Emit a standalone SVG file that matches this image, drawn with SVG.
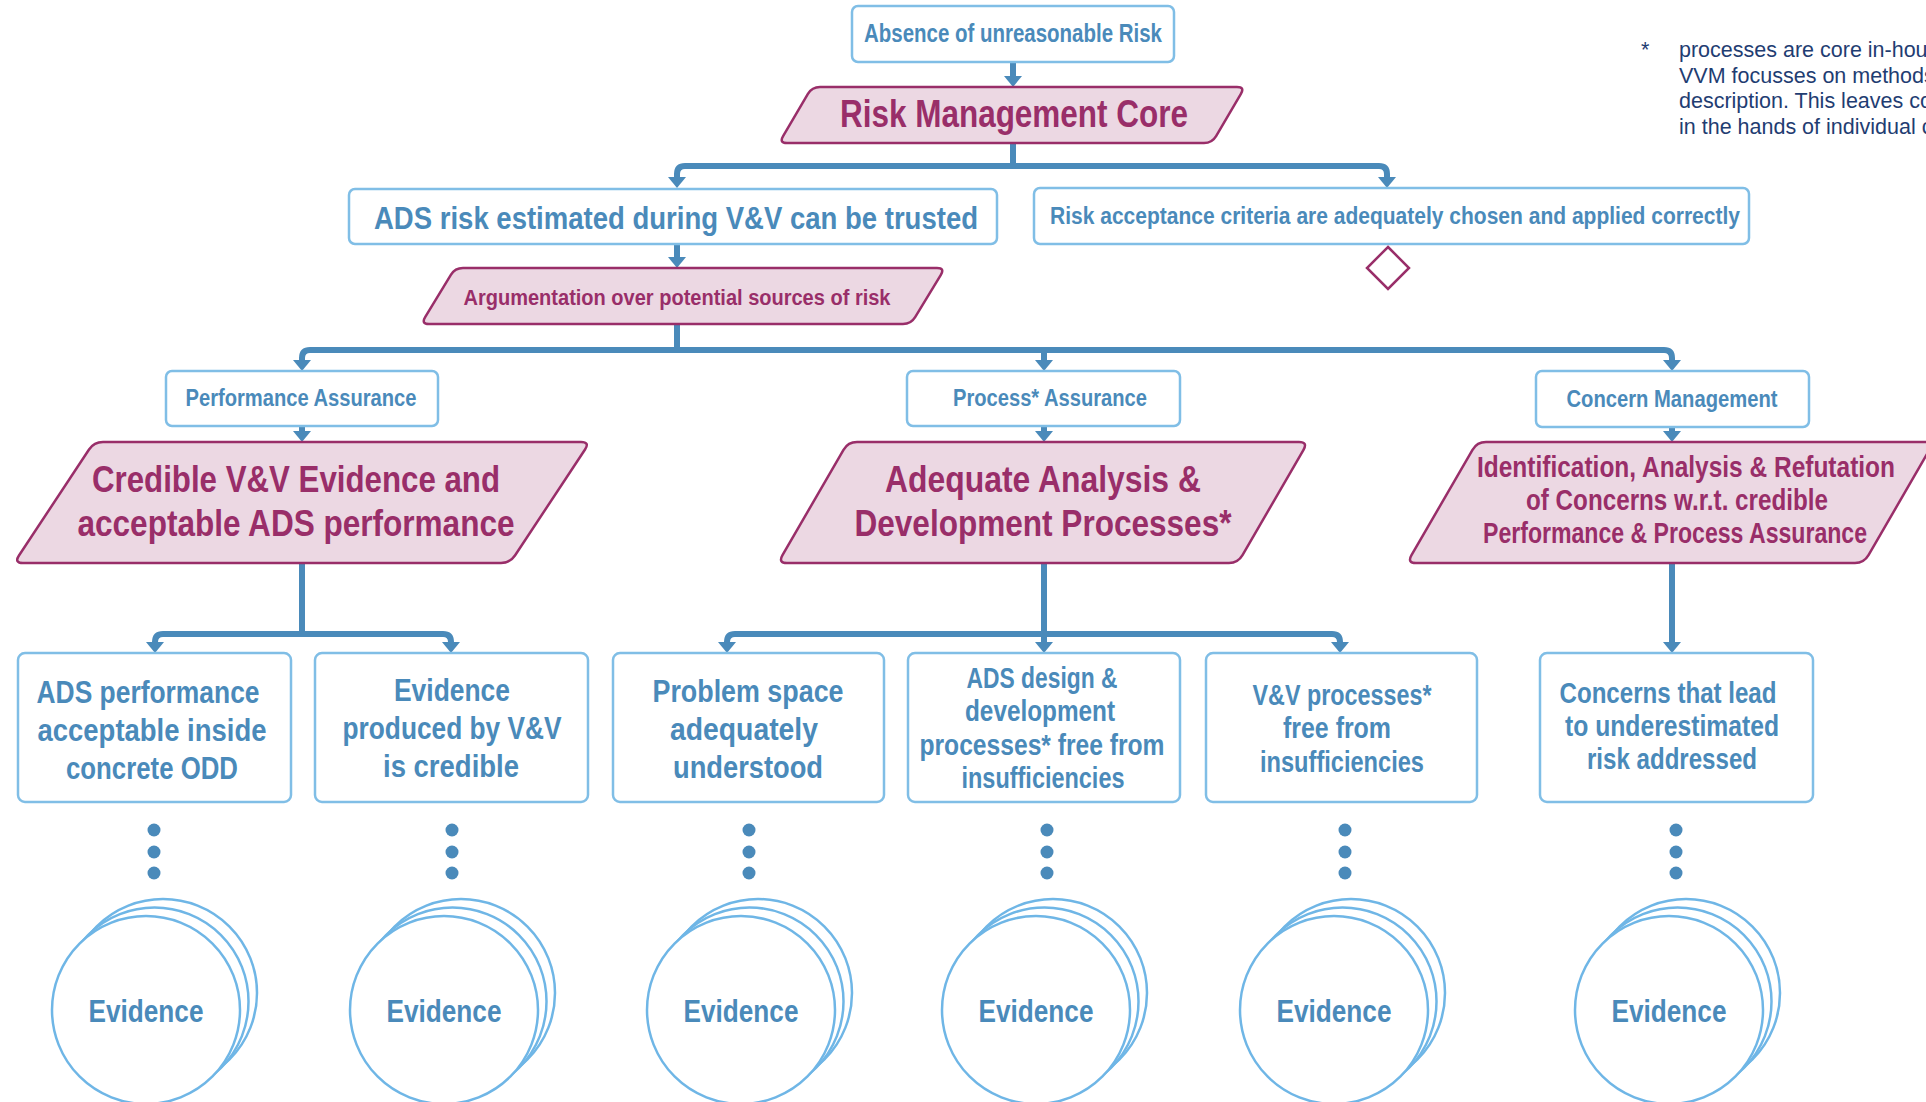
<svg xmlns="http://www.w3.org/2000/svg" width="1926" height="1102" viewBox="0 0 1926 1102">
<style>
.bx{fill:#fff;stroke:#80bee6;stroke-width:2.5}
.pg{fill:#ecd8e3;stroke:#992e69;stroke-width:2.5}
.bt{font-family:'Liberation Sans',Arial,sans-serif;font-weight:bold;fill:#4a8aba;text-anchor:middle}
.mt{font-family:'Liberation Sans',Arial,sans-serif;font-weight:bold;fill:#992e69;text-anchor:middle}
.cn{fill:none;stroke:#4a8aba;stroke-width:6}
.ar{marker-end:url(#arr)}
.dot{fill:#4a8aba}
.ev{fill:#fff;stroke:#6fb6e6;stroke-width:2.5}
.fn{font-family:'Liberation Sans',Arial,sans-serif;font-size:21.5px;fill:#1f3d72}
</style>
<defs>
<marker id="arr" viewBox="0 0 11 18" refX="3" refY="9" markerWidth="11" markerHeight="18" markerUnits="userSpaceOnUse" orient="auto">
<path d="M0,0 L11,9 L0,18 Z" fill="#4a8aba"/>
</marker>
</defs>
<rect width="1926" height="1102" fill="#fff"/>

<g id="connectors">
<path class="cn ar" d="M1013,62 V79"/>
<path class="cn" d="M1013,143 V166"/>
<path class="cn ar" d="M1013,166 H685 Q677,166 677,174 V180"/>
<path class="cn ar" d="M1013,166 H1379 Q1387,166 1387,174 V180"/>
<path class="cn ar" d="M677,244 V260"/>
<path class="cn" d="M677,324 V350"/>
<path class="cn ar" d="M677,350 H310 Q302,350 302,358 V363"/>
<path class="cn ar" d="M677,350 H1664 Q1672,350 1672,358 V363"/>
<path class="cn ar" d="M1044,350 V363"/>
<path class="cn ar" d="M302,426 V434"/>
<path class="cn ar" d="M1044,426 V434"/>
<path class="cn ar" d="M1672,427 V434"/>
<path class="cn" d="M302,563 V634"/>
<path class="cn ar" d="M302,634 H163 Q155,634 155,642 V645"/>
<path class="cn ar" d="M302,634 H443 Q451,634 451,642 V645"/>
<path class="cn ar" d="M1044,563 V645"/>
<path class="cn ar" d="M1044,634 H735 Q727,634 727,642 V645"/>
<path class="cn ar" d="M1044,634 H1332 Q1340,634 1340,642 V645"/>
<path class="cn ar" d="M1672,563 V645"/>
</g>

<g id="n-absence">
<rect class="bx" x="852" y="6" width="322" height="56" rx="6"/>
<text class="bt" x="1013" y="42" font-size="25" textLength="298" lengthAdjust="spacingAndGlyphs">Absence of unreasonable Risk</text>
</g>
<g id="n-rmc">
<path class="pg" d="M820,87 H1237 Q1245,87 1240.9,93.9 L1216.1,136.1 Q1212,143 1204,143 H787 Q779,143 783.1,136.1 L807.9,93.9 Q812,87 820,87 Z"/>
<text class="mt" x="1014" y="127" font-size="38" textLength="348" lengthAdjust="spacingAndGlyphs">Risk Management Core</text>
</g>
<g id="n-adsrisk">
<rect class="bx" x="349" y="189" width="648" height="55" rx="6"/>
<text class="bt" x="676" y="229" font-size="31" textLength="604" lengthAdjust="spacingAndGlyphs">ADS risk estimated during V&amp;V can be trusted</text>
</g>
<g id="n-acceptance">
<rect class="bx" x="1034" y="188" width="715" height="56" rx="6"/>
<text class="bt" x="1395" y="224" font-size="24" textLength="690" lengthAdjust="spacingAndGlyphs">Risk acceptance criteria are adequately chosen and applied correctly</text>
</g>
<g id="n-diamond">
<polygon points="1388,247 1409,268 1388,289 1367,268" fill="#fff" stroke="#992e69" stroke-width="2.5"/>
</g>
<g id="n-argumentation">
<path class="pg" d="M463,268 H937 Q945,268 940.85,274.84 L915.15,317.16 Q911,324 903,324 H429 Q421,324 425.15,317.16 L450.85,274.84 Q455,268 463,268 Z"/>
<text class="mt" x="677" y="305" font-size="22.5" textLength="427" lengthAdjust="spacingAndGlyphs">Argumentation over potential sources of risk</text>
</g>
<g id="n-perf">
<rect class="bx" x="166" y="371" width="272" height="55" rx="6"/>
<text class="bt" x="301" y="406" font-size="23" textLength="231" lengthAdjust="spacingAndGlyphs">Performance Assurance</text>
</g>
<g id="n-proc">
<rect class="bx" x="907" y="371" width="273" height="55" rx="6"/>
<text class="bt" x="1050" y="406" font-size="23" textLength="194" lengthAdjust="spacingAndGlyphs">Process* Assurance</text>
</g>
<g id="n-concern">
<rect class="bx" x="1536" y="371" width="273" height="56" rx="6"/>
<text class="bt" x="1672" y="407" font-size="23" textLength="211" lengthAdjust="spacingAndGlyphs">Concern Management</text>
</g>
<g id="n-credible">
<path class="pg" d="M103,442 H581 Q590,442 585.03,449.5 L514.97,555.5 Q510,563 501,563 H23 Q14,563 18.97,555.5 L89.03,449.5 Q94,442 103,442 Z"/>
<text class="mt" x="296" y="492" font-size="37" textLength="408" lengthAdjust="spacingAndGlyphs">Credible V&amp;V Evidence and</text>
<text class="mt" x="296" y="536" font-size="37" textLength="437" lengthAdjust="spacingAndGlyphs">acceptable ADS performance</text>
</g>
<g id="n-adequate">
<path class="pg" d="M857,442 H1299 Q1308,442 1303.5,449.8 L1242.5,555.2 Q1238,563 1229,563 H787 Q778,563 782.5,555.2 L843.5,449.8 Q848,442 857,442 Z"/>
<text class="mt" x="1043" y="492" font-size="37" textLength="316" lengthAdjust="spacingAndGlyphs">Adequate Analysis &amp;</text>
<text class="mt" x="1043" y="536" font-size="37" textLength="377" lengthAdjust="spacingAndGlyphs">Development Processes*</text>
</g>
<g id="n-identification">
<path class="pg" d="M1486,442 H1925 Q1934,442 1929.5,449.8 L1868.5,555.2 Q1864,563 1855,563 H1416 Q1407,563 1411.5,555.2 L1472.5,449.8 Q1477,442 1486,442 Z"/>
<text class="mt" x="1686" y="477" font-size="29" textLength="418" lengthAdjust="spacingAndGlyphs">Identification, Analysis &amp; Refutation</text>
<text class="mt" x="1677" y="510" font-size="29" textLength="302" lengthAdjust="spacingAndGlyphs">of Concerns w.r.t. credible</text>
<text class="mt" x="1675" y="543" font-size="29" textLength="384" lengthAdjust="spacingAndGlyphs">Performance &amp; Process Assurance</text>
</g>

<g id="n-b1">
<rect class="bx" x="18" y="653" width="273" height="149" rx="7"/>
<text class="bt" x="148" y="703" font-size="31.5" textLength="223" lengthAdjust="spacingAndGlyphs">ADS performance</text>
<text class="bt" x="152" y="741" font-size="31.5" textLength="229" lengthAdjust="spacingAndGlyphs">acceptable inside</text>
<text class="bt" x="152" y="779" font-size="31.5" textLength="172" lengthAdjust="spacingAndGlyphs">concrete ODD</text>
</g>
<g id="n-b2">
<rect class="bx" x="315" y="653" width="273" height="149" rx="7"/>
<text class="bt" x="452" y="701" font-size="31.5" textLength="116" lengthAdjust="spacingAndGlyphs">Evidence</text>
<text class="bt" x="452" y="739" font-size="31.5" textLength="219" lengthAdjust="spacingAndGlyphs">produced by V&amp;V</text>
<text class="bt" x="451" y="777" font-size="31.5" textLength="136" lengthAdjust="spacingAndGlyphs">is credible</text>
</g>
<g id="n-b3">
<rect class="bx" x="613" y="653" width="271" height="149" rx="7"/>
<text class="bt" x="748" y="702" font-size="31.5" textLength="191" lengthAdjust="spacingAndGlyphs">Problem space</text>
<text class="bt" x="744" y="740" font-size="31.5" textLength="148" lengthAdjust="spacingAndGlyphs">adequately</text>
<text class="bt" x="748" y="778" font-size="31.5" textLength="150" lengthAdjust="spacingAndGlyphs">understood</text>
</g>
<g id="n-b4">
<rect class="bx" x="908" y="653" width="272" height="149" rx="7"/>
<text class="bt" x="1042" y="688" font-size="29" textLength="151" lengthAdjust="spacingAndGlyphs">ADS design &amp;</text>
<text class="bt" x="1040" y="721" font-size="29" textLength="150" lengthAdjust="spacingAndGlyphs">development</text>
<text class="bt" x="1042" y="755" font-size="29" textLength="245" lengthAdjust="spacingAndGlyphs">processes* free from</text>
<text class="bt" x="1043" y="788" font-size="29" textLength="163" lengthAdjust="spacingAndGlyphs">insufficiencies</text>
</g>
<g id="n-b5">
<rect class="bx" x="1206" y="653" width="271" height="149" rx="7"/>
<text class="bt" x="1342" y="705" font-size="29" textLength="179" lengthAdjust="spacingAndGlyphs">V&amp;V processes*</text>
<text class="bt" x="1337" y="738" font-size="29" textLength="108" lengthAdjust="spacingAndGlyphs">free from</text>
<text class="bt" x="1342" y="772" font-size="29" textLength="164" lengthAdjust="spacingAndGlyphs">insufficiencies</text>
</g>
<g id="n-b6">
<rect class="bx" x="1540" y="653" width="273" height="149" rx="7"/>
<text class="bt" x="1668" y="703" font-size="29" textLength="217" lengthAdjust="spacingAndGlyphs">Concerns that lead</text>
<text class="bt" x="1672" y="736" font-size="29" textLength="214" lengthAdjust="spacingAndGlyphs">to underestimated</text>
<text class="bt" x="1672" y="769" font-size="29" textLength="170" lengthAdjust="spacingAndGlyphs">risk addressed</text>
</g>

<g id="dots">
<circle class="dot" cx="154" cy="830" r="6.5"/><circle class="dot" cx="154" cy="852" r="6.5"/><circle class="dot" cx="154" cy="873" r="6.5"/>
<circle class="dot" cx="452" cy="830" r="6.5"/><circle class="dot" cx="452" cy="852" r="6.5"/><circle class="dot" cx="452" cy="873" r="6.5"/>
<circle class="dot" cx="749" cy="830" r="6.5"/><circle class="dot" cx="749" cy="852" r="6.5"/><circle class="dot" cx="749" cy="873" r="6.5"/>
<circle class="dot" cx="1047" cy="830" r="6.5"/><circle class="dot" cx="1047" cy="852" r="6.5"/><circle class="dot" cx="1047" cy="873" r="6.5"/>
<circle class="dot" cx="1345" cy="830" r="6.5"/><circle class="dot" cx="1345" cy="852" r="6.5"/><circle class="dot" cx="1345" cy="873" r="6.5"/>
<circle class="dot" cx="1676" cy="830" r="6.5"/><circle class="dot" cx="1676" cy="852" r="6.5"/><circle class="dot" cx="1676" cy="873" r="6.5"/>
</g>

<g id="ev1">
<circle class="ev" cx="163" cy="993" r="94"/><circle class="ev" cx="154.5" cy="1001.5" r="94"/><circle class="ev" cx="146" cy="1010" r="94"/>
<text class="bt" x="146" y="1022" font-size="31" textLength="115" lengthAdjust="spacingAndGlyphs">Evidence</text>
</g>
<g id="ev2">
<circle class="ev" cx="461" cy="993" r="94"/><circle class="ev" cx="452.5" cy="1001.5" r="94"/><circle class="ev" cx="444" cy="1010" r="94"/>
<text class="bt" x="444" y="1022" font-size="31" textLength="115" lengthAdjust="spacingAndGlyphs">Evidence</text>
</g>
<g id="ev3">
<circle class="ev" cx="758" cy="993" r="94"/><circle class="ev" cx="749.5" cy="1001.5" r="94"/><circle class="ev" cx="741" cy="1010" r="94"/>
<text class="bt" x="741" y="1022" font-size="31" textLength="115" lengthAdjust="spacingAndGlyphs">Evidence</text>
</g>
<g id="ev4">
<circle class="ev" cx="1053" cy="993" r="94"/><circle class="ev" cx="1044.5" cy="1001.5" r="94"/><circle class="ev" cx="1036" cy="1010" r="94"/>
<text class="bt" x="1036" y="1022" font-size="31" textLength="115" lengthAdjust="spacingAndGlyphs">Evidence</text>
</g>
<g id="ev5">
<circle class="ev" cx="1351" cy="993" r="94"/><circle class="ev" cx="1342.5" cy="1001.5" r="94"/><circle class="ev" cx="1334" cy="1010" r="94"/>
<text class="bt" x="1334" y="1022" font-size="31" textLength="115" lengthAdjust="spacingAndGlyphs">Evidence</text>
</g>
<g id="ev6">
<circle class="ev" cx="1686" cy="993" r="94"/><circle class="ev" cx="1677.5" cy="1001.5" r="94"/><circle class="ev" cx="1669" cy="1010" r="94"/>
<text class="bt" x="1669" y="1022" font-size="31" textLength="115" lengthAdjust="spacingAndGlyphs">Evidence</text>
</g>

<g id="footnote">
<text class="fn" x="1641" y="57">*</text>
<text class="fn" x="1679" y="57">processes are core in-hou</text>
<text class="fn" x="1679" y="83">VVM focusses on methods</text>
<text class="fn" x="1679" y="108">description. This leaves co</text>
<text class="fn" x="1679" y="134">in the hands of individual c</text>
</g>
</svg>
